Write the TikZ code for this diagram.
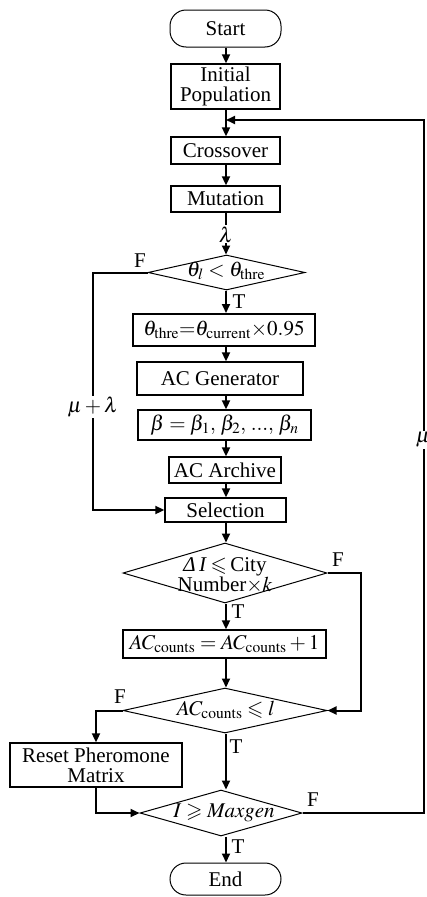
\documentclass[tikz,border=0pt]{standalone}
\usepackage{amsmath,amssymb}
\usepackage{mathptmx}
\usepackage{fontspec}
\setmainfont{Liberation Serif}
\usetikzlibrary{arrows.meta,positioning,shapes.geometric}
\newcommand{\chartfont}{\fontsize{21}{20}\selectfont}
\tikzset{
  >={Triangle[length=9pt,width=8pt]},
  flow/.style={line width=2pt, ->},
  proc/.style={draw, line width=1.4pt, inner sep=0pt, align=center, font=\chartfont},
  term/.style={draw, line width=1pt, rounded corners=16pt, inner sep=0pt, font=\chartfont},
  dec/.style={diamond, draw, line width=1pt, inner sep=0pt},
  lbl/.style={inner sep=1pt, font=\chartfont, align=center},
}

\begin{document}
\begin{tikzpicture}[x=1pt, y=-1pt]
\useasboundingbox (0,0) rectangle (426,897);
\coordinate (spine) at (226,0);

% main column
\node[term, minimum width=111pt, minimum height=37pt] (start) at (225.5,28.5) {Start};
\node[proc, minimum width=109pt, minimum height=45pt] (init) at (225.5,86.5) {Initial\\Population};
\node[proc, minimum width=109pt, minimum height=27pt] (cross) at (225.5,150.5) {Crossover};
\node[proc, minimum width=109pt, minimum height=26pt] (mut) at (225.5,199) {Mutation};
\node[dec, minimum width=157pt, minimum height=35pt] (d1) at (226.5,272.5) {};
\node[lbl] (d1t) at (226,271) {$\theta_l<\theta_{\mathrm{thre}}$};
\node[proc, line width=2pt, minimum width=182pt, minimum height=32pt] (thre) at (224,330)
  {$\theta_{\mathrm{thre}}{=}\theta_{\mathrm{current}}{\times}0.95$};
\node[proc, minimum width=166pt, minimum height=33pt] (acgen) at (220,378.5) {AC Generator};
\node[proc, minimum width=173pt, minimum height=30pt] (beta) at (224.5,425)
  {$\beta=\beta_1,\,\beta_2,\,...,\,\beta_n$};
\node[proc, minimum width=112pt, minimum height=26pt] (arch) at (225,470) {AC Archive};
\node[proc, minimum width=121pt, minimum height=24pt] (sel) at (225.5,510) {Selection};
\node[dec, minimum width=204pt, minimum height=60pt] (d2) at (225,573) {};
\node[lbl] (d2t) at (225,575) {\textit{Δ\,I}\,$\leqslant$\,City\\Number$\times k$};
\node[proc, minimum width=203pt, minimum height=28pt] (acc) at (224.5,644)
  {$AC_{\mathrm{counts}}=AC_{\mathrm{counts}}+1$};
\node[dec, minimum width=204pt, minimum height=45pt] (d3) at (225,710.5) {};
\node[lbl] (d3t) at (226,710) {$AC_{\mathrm{counts}}\leqslant l$};
\node[proc, minimum width=172pt, minimum height=44pt] (reset) at (96,765) {Reset Pheromone\\Matrix};
\node[dec, minimum width=162pt, minimum height=46pt] (d4) at (221,813) {};
\node[lbl] (d4t) at (224,813) {$I\geqslant \mathit{Maxgen}$};
\node[term, minimum width=111pt, minimum height=32pt] (end) at (225.5,879) {End};

% branch labels
\node[lbl] (f1) at (140,261) {F};
\node[lbl] (t1) at (239,302) {T};
\node[lbl] (f2) at (338,560) {F};
\node[lbl] (t2) at (238,612) {T};
\node[lbl] (f3) at (120,697) {F};
\node[lbl] (t3) at (236,747) {T};
\node[lbl] (f4) at (313,800) {F};
\node[lbl] (t4) at (238,847) {T};

% straight flow
\draw[flow] (start.south -| spine) -- (init.north -| spine);
\draw[flow] (init.south -| spine) -- (cross.north -| spine);
\draw[flow] (cross.south -| spine) -- (mut.north -| spine);
\draw[flow] (mut.south -| spine) -- (d1.north -| spine)
  node[lbl, fill=white, pos=.52] (lam) {$\lambda$};
\draw[flow] (d1.south -| spine) -- (thre.north -| spine);
\draw[flow] (thre.south -| spine) -- (acgen.north -| spine);
\draw[flow] (acgen.south -| spine) -- (beta.north -| spine);
\draw[flow] (beta.south -| spine) -- (arch.north -| spine);
\draw[flow] (arch.south -| spine) -- (sel.north -| spine);
\draw[flow] (sel.south -| spine) -- (d2.north -| spine);
\draw[flow] (d2.south -| spine) -- (acc.north -| spine);
\draw[flow] (acc.south -| spine) -- (d3.north -| spine);
\draw[flow] (d3.south -| spine) -- (d4.north -| spine);
\draw[flow] (d4.south -| spine) -- (end.north -| spine);

% side branches
\coordinate (lftA) at (93,0);
\draw[flow] (d1.west) -- (d1.west -| lftA) -- (sel.west -| lftA) -- (sel.west);
\node[lbl, fill=white] (mulam) at (93,407) {$\mu+\lambda$};
\coordinate (rgtB) at (361,0);
\draw[flow] (d2.east) -- (d2.east -| rgtB) -- (d3.east -| rgtB) -- (d3.east);
\draw[flow] (d3.west) -| (reset.north);
\draw[flow] (reset.south) |- (d4.west);
\coordinate (loopin) at (226,120);
\coordinate (rgtC) at (424,0);
\draw[flow] (d4.east) -- (d4.east -| rgtC) -- (rgtC |- loopin) -- (loopin);
\node[lbl, fill=white] (mu) at (423,440) {$\mu$};
\end{tikzpicture}
\end{document}
